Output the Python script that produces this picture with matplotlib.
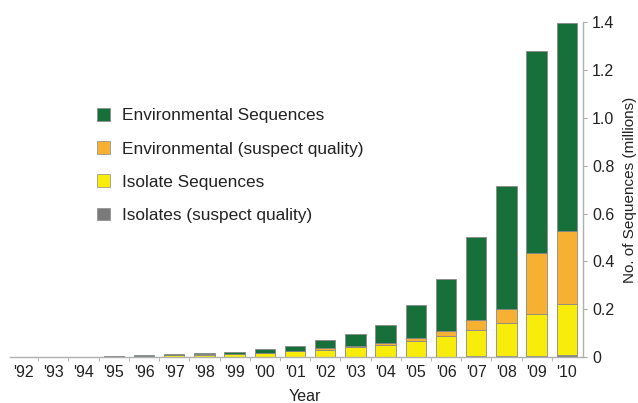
import numpy as np
import matplotlib.pyplot as plt
from matplotlib.patches import Patch

plt.rcParams['font.family'] = ['Liberation Sans', 'DejaVu Sans']

years = ["'92", "'93", "'94", "'95", "'96", "'97", "'98", "'99", "'00", "'01",
         "'02", "'03", "'04", "'05", "'06", "'07", "'08", "'09", "'10"]

# values in millions (layer by layer, bottom to top)
isolates_suspect = [0.0003, 0.0005, 0.0005, 0.0008, 0.001, 0.001, 0.001, 0.0012, 0.0015, 0.0015,
                    0.002, 0.002, 0.002, 0.002, 0.002, 0.003, 0.003, 0.006, 0.007]
isolate_seqs = [0.0002, 0.0005, 0.0007, 0.0022, 0.004, 0.006, 0.009, 0.0118, 0.0155, 0.0225,
                0.029, 0.038, 0.048, 0.064, 0.088, 0.109, 0.139, 0.174, 0.213]
env_suspect = [0.0001, 0.0002, 0.0002, 0.0005, 0.0008, 0.001, 0.0012, 0.0015, 0.002, 0.002,
               0.005, 0.006, 0.008, 0.015, 0.019, 0.041, 0.060, 0.253, 0.307]
env_seqs = [0.0004, 0.0008, 0.0006, 0.0005, 0.0012, 0.003, 0.0058, 0.0085, 0.013, 0.020,
            0.034, 0.049, 0.077, 0.135, 0.216, 0.349, 0.512, 0.847, 0.868]

y_ticks = [0, 0.2, 0.4, 0.6, 0.8, 1.0, 1.2, 1.4]
y_tick_labels = ['0', '0.2', '0.4', '0.6', '0.8', '1.0', '1.2', '1.4']

colors = {'env': '#17703a', 'env_s': '#f6b133', 'iso': '#f7ec0a', 'iso_s': '#7a7a7a'}

fig = plt.figure(figsize=(6.38, 4.03), dpi=100)
ax = fig.add_axes([0.016, 0.114, 0.898, 0.831])

x = np.arange(len(years))
w = 0.68
edge = dict(edgecolor='#8a8a8a', linewidth=0.6)

bottom = np.zeros(len(years))
for vals, key in [(isolates_suspect, 'iso_s'), (isolate_seqs, 'iso'),
                  (env_suspect, 'env_s'), (env_seqs, 'env')]:
    ax.bar(x, vals, w, bottom=bottom, color=colors[key], **edge)
    bottom += np.array(vals)

ax.set_xlim(-0.43, 18.54)
ax.set_ylim(0, 1.4)

# y axis on the right
ax.yaxis.tick_right()
ax.yaxis.set_label_position('right')
ax.set_yticks(y_ticks)
ax.set_yticklabels(y_tick_labels)
ax.set_ylabel('No. of Sequences (millions)', fontsize=11, color='#222222', labelpad=6)

ax.set_xticks(x)
ax.set_xticklabels(years)
ax.set_xticks(x[:-1] + 0.5, minor=True)
ax.tick_params(axis='x', which='major', length=0, labelsize=11.5, pad=6, labelcolor='#222222')
ax.tick_params(axis='x', which='minor', length=3, color='#aaaaaa')
ax.tick_params(axis='y', length=3, color='#aaaaaa', labelsize=11.5, labelcolor='#222222')
ax.set_xlabel('Year', fontsize=11.5, color='#222222')
ax.xaxis.set_label_coords(0.515, -0.095)

for s in ['left', 'top']:
    ax.spines[s].set_visible(False)
for s in ['bottom', 'right']:
    ax.spines[s].set_color('#b0b0b0')
    ax.spines[s].set_linewidth(1.0)

handles = [Patch(facecolor=colors['env'], edgecolor='#8a8a8a', linewidth=0.5),
           Patch(facecolor=colors['env_s'], edgecolor='#8a8a8a', linewidth=0.5),
           Patch(facecolor=colors['iso'], edgecolor='#8a8a8a', linewidth=0.5),
           Patch(facecolor=colors['iso_s'], edgecolor='#8a8a8a', linewidth=0.5)]
labels = ['Environmental Sequences', 'Environmental (suspect quality)',
          'Isolate Sequences', 'Isolates (suspect quality)']
leg = ax.legend(handles, labels, loc='upper left', bbox_to_anchor=(0.124, 0.79),
                frameon=False, fontsize=12.4, handlelength=0.75, handleheight=0.75,
                handletextpad=0.7, labelspacing=1.04)
for t in leg.get_texts():
    t.set_color('#222222')

plt.savefig('out.png', dpi=100)
